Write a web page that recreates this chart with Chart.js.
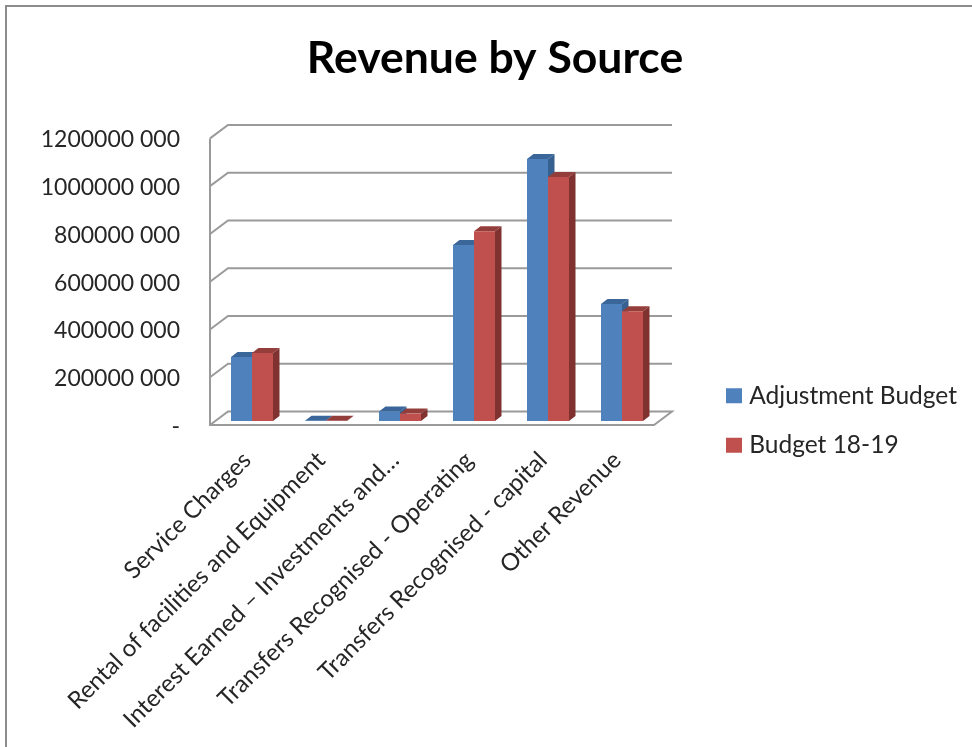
<!DOCTYPE html>
<html>
<head>
<meta charset="utf-8">
<title>Revenue by Source</title>
<script src="https://cdn.jsdelivr.net/npm/chart.js@4"></script>
<style>
  html, body { margin: 0; padding: 0; background: #fff; overflow: hidden; }
  #frame { position: absolute; left: 5px; top: 5px; width: 970px; height: 745px;
           border-top: 2px solid #8c8c8c; border-left: 2px solid #8c8c8c; }
  canvas { position: absolute; left: 0; top: 0; }
</style>
</head>
<body>
<div id="frame"></div>
<canvas id="chart" width="972" height="747"></canvas>
<script>
const categories = [
  "Service Charges",
  "Rental of facilities and Equipment",
  "Interest Earned – Investments and…",
  "Transfers Recognised - Operating",
  "Transfers Recognised - capital",
  "Other Revenue"
];
const adjustmentBudget = [268000000, 1500000, 40000000, 737000000, 1097000000, 490000000];
const budget1819 = [285000000, 1000000, 31000000, 795000000, 1022000000, 460000000];
const axisMax = 1200000000;
const axisStep = 200000000;

const FONT = "Lato, 'Open Sans', sans-serif";
const TEXT = "#262626";
const GRID = "#9a9a9a";

// Offset of the back wall from the front plane, and of the bars from the front edge.
const wall = { dx: 18, dy: -13.5 };
const barShift = { dx: 5, dy: -4 };
const barDepth = { dx: 6.5, dy: -5 };

function poly(ctx, pts, fill) {
  ctx.beginPath();
  pts.forEach((p, i) => i ? ctx.lineTo(p[0], p[1]) : ctx.moveTo(p[0], p[1]));
  ctx.closePath();
  ctx.fillStyle = fill;
  ctx.fill();
}

const box3d = {
  id: "box3d",
  afterLayout(chart) {
    // Centre the title on the page and move the legend beside the floor of the chart.
    const tb = chart.titleBlock;
    tb.left = 18; tb.right = 972;
    const lg = chart.legend;
    lg.left = 706; lg.right = 972;
    lg.top = 358.5; lg.bottom = 747;
    lg.adjustHitBoxes();
  },
  beforeDatasetsDraw(chart) {
    const { ctx, chartArea: a, scales: { y } } = chart;
    ctx.save();
    ctx.strokeStyle = GRID;
    ctx.lineWidth = 2;
    ctx.lineJoin = "miter";
    y.ticks.forEach(t => {
      const py = y.getPixelForValue(t.value);
      ctx.beginPath();
      ctx.moveTo(a.left, py);
      ctx.lineTo(a.left + wall.dx, py + wall.dy);
      ctx.lineTo(a.right + wall.dx, py + wall.dy);
      if (t.value === 0) {
        ctx.lineTo(a.right, py);
        ctx.lineTo(a.left, py);
      }
      ctx.stroke();
    });
    ctx.beginPath();
    ctx.moveTo(a.left, y.getPixelForValue(axisMax));
    ctx.lineTo(a.left, y.getPixelForValue(0) + 1);
    ctx.stroke();
    ctx.restore();
  },
  // The library paints datasets last to first; series here must overlap first to last.
  beforeDatasetDraw() {
    return false;
  },
  afterDatasetsDraw(chart) {
    const ctx = chart.ctx;
    chart.data.datasets.forEach((ds, i) => {
      const meta = chart.getDatasetMeta(i);
      ctx.save();
      ctx.translate(barShift.dx, barShift.dy);
      meta.data.forEach(bar => {
        const p = bar.getProps(["x", "y", "base", "width"], true);
        const x0 = p.x - p.width / 2, x1 = p.x + p.width / 2;
        const d = barDepth;
        poly(ctx, [[x1, p.y], [x1 + d.dx, p.y + d.dy], [x1 + d.dx, p.base + d.dy], [x1, p.base]], ds.sideColor);
        poly(ctx, [[x0, p.y], [x0 + d.dx, p.y + d.dy], [x1 + d.dx, p.y + d.dy], [x1, p.y]], ds.topColor);
      });
      meta.controller.draw();
      ctx.restore();
    });
  }
};

new Chart(document.getElementById("chart"), {
  type: "bar",
  data: {
    labels: categories,
    datasets: [
      { label: "Adjustment Budget", data: adjustmentBudget, backgroundColor: "#4f81bd",
        sideColor: "#36608f", topColor: "#3b669a" },
      { label: "Budget 18-19", data: budget1819, backgroundColor: "#c0504d",
        sideColor: "#7f3230", topColor: "#943e3b" }
    ]
  },
  options: {
    responsive: false,
    animation: false,
    layout: { padding: { left: 18, right: 106, top: 0, bottom: 0 } },
    datasets: { bar: { categoryPercentage: 0.5676, barPercentage: 1 } },
    scales: {
      x: {
        grid: { display: false },
        border: { display: false },
        ticks: {
          autoSkip: false, minRotation: 45, maxRotation: 45, padding: 13,
          color: TEXT, font: { family: FONT, size: 24 }
        },
        afterFit(scale) { scale.height = 322; }
      },
      y: {
        min: 0, max: axisMax,
        grid: { display: false, drawTicks: false },
        border: { display: false },
        ticks: {
          stepSize: axisStep, padding: 30, labelOffset: 1.5, color: TEXT,
          font: { family: FONT, size: 23 },
          callback: v => v === 0 ? "-" : Math.floor(v / 1000) + " 000"
        },
        afterFit(scale) { scale.width = 192; }
      }
    },
    plugins: {
      tooltip: { enabled: false },
      title: {
        display: true, text: "Revenue by Source", color: "#000",
        font: { family: FONT, size: 44.5, weight: "bold" },
        padding: { top: 32, bottom: 53 }
      },
      legend: {
        position: "right",
        align: "start",
        labels: {
          color: TEXT, font: { family: FONT, size: 24.5 },
          boxWidth: 6, boxHeight: 5, padding: 25,
          generateLabels(chart) {
            return Chart.defaults.plugins.legend.labels.generateLabels(chart).map(item => {
              item.lineWidth = 10;
              item.strokeStyle = item.fillStyle;
              return item;
            });
          }
        }
      }
    }
  },
  plugins: [box3d]
});
</script>
</body>
</html>
